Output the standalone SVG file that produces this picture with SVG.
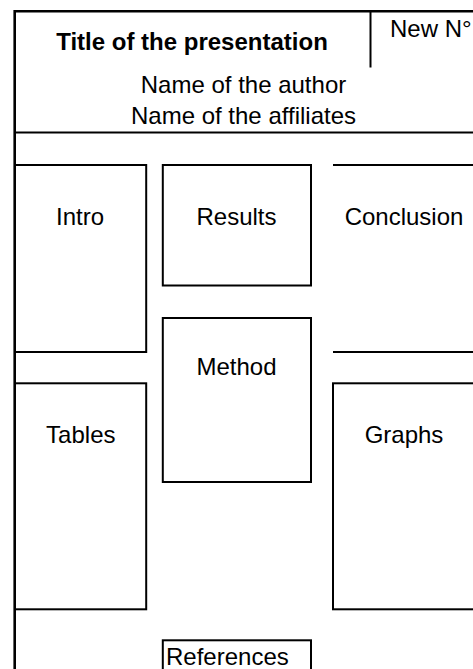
<svg xmlns="http://www.w3.org/2000/svg" width="473" height="669" viewBox="0 0 473 669">
<style>
  .ln { fill: none; stroke: #000; stroke-width: 2; }
  .border { fill: none; stroke: #000; stroke-width: 2.6; }
  .t { font-family: "Liberation Sans", Arial, sans-serif; font-size: 24px; fill: #000; text-anchor: middle; }
  .b { font-weight: bold; }
  .s { text-anchor: start; }
</style>
<rect width="473" height="669" fill="#fff"/>
<g id="frame">
  <path class="border" d="M14.7 680 V11.2 H480"/>
  <path class="ln" d="M370.5 11 V67.5"/>
  <path class="ln" stroke-width="1.8" d="M15 132.5 H480"/>
</g>
<g id="header">
  <text class="t b" x="192" y="50">Title of the presentation</text>
  <text class="t s" x="390" y="37">New N°</text>
  <text class="t" x="243.5" y="92.7">Name of the author</text>
  <text class="t" x="243.5" y="123.5">Name of the affiliates</text>
</g>
<g id="intro">
  <rect class="ln" x="15" y="165" width="131.2" height="187"/>
  <text class="t" x="80" y="225">Intro</text>
</g>
<g id="results">
  <rect class="ln" x="162.8" y="165" width="148.2" height="120.5"/>
  <text class="t" x="236.5" y="225">Results</text>
</g>
<g id="conclusion">
  <path class="ln" d="M333 165 H480 M333 352 H480"/>
  <text class="t" x="404" y="225">Conclusion</text>
</g>
<g id="method">
  <rect class="ln" x="162.8" y="318" width="148.2" height="164"/>
  <text class="t" x="236.5" y="375">Method</text>
</g>
<g id="tables">
  <rect class="ln" x="15" y="383.3" width="131.2" height="226"/>
  <text class="t" x="80.8" y="442.7">Tables</text>
</g>
<g id="graphs">
  <rect class="ln" x="333" y="383.3" width="160" height="226"/>
  <text class="t" x="404" y="442.7">Graphs</text>
</g>
<g id="references">
  <rect class="ln" x="162.8" y="640.3" width="148.2" height="60"/>
  <text class="t s" x="166" y="664.5">References</text>
</g>
</svg>
